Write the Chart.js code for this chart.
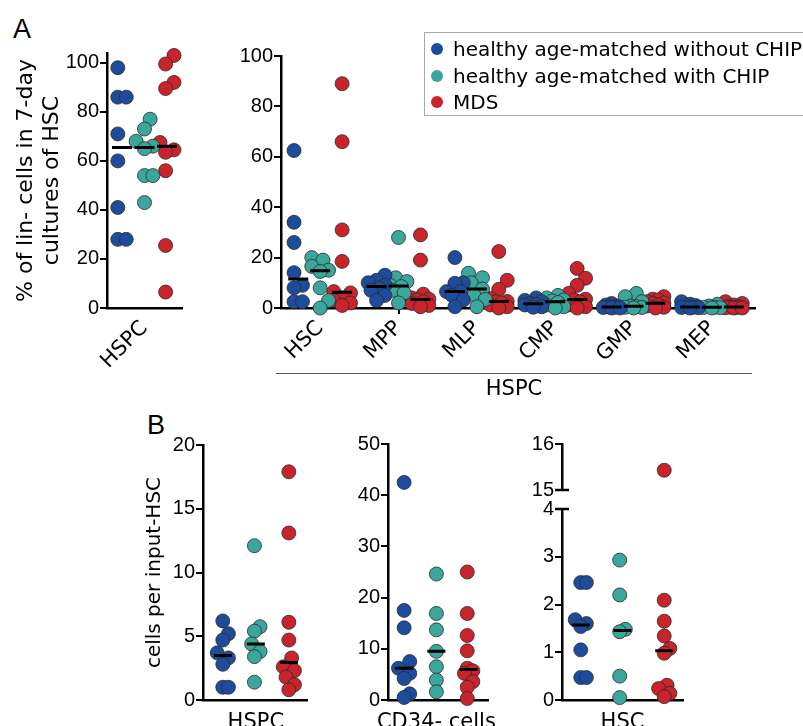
<!DOCTYPE html>
<html>
<head>
<meta charset="utf-8">
<script src="https://cdn.jsdelivr.net/npm/chart.js@4.4.1/dist/chart.umd.min.js"></script>
<style>
  body { margin: 0; width: 803px; height: 726px; overflow: hidden; position: relative; background: #fff; font-family: "DejaVu Sans", Verdana, sans-serif; color: #000; }
  canvas { position: absolute; }
  .letter { position: absolute; font-family: "Liberation Sans", Arial, sans-serif; font-size: 27px; line-height: 1; }
  .legend { position: absolute; left: 424px; top: 32px; width: 400px; height: 82px; border: 1px solid #a8a8a8; }
  .row { position: absolute; left: 0; height: 26px; line-height: 26px; font-size: 20px; white-space: nowrap; }
  .dot { position: absolute; left: 6px; top: 7px; width: 12px; height: 12px; border-radius: 50%; }
  .row span { position: absolute; left: 28px; top: 0; }
  .group { position: absolute; left: 276px; top: 373px; width: 476px; border-top: 1.5px solid #555; }
  .group div { text-align: center; font-size: 21px; line-height: 1; padding-top: 4px; }
</style>
</head>
<body>
<div class="letter" style="left:13px;top:16px">A</div>
<div class="letter" style="left:147px;top:412px">B</div>

<canvas id="aLeft" width="200" height="345" style="left:0;top:40px"></canvas>
<canvas id="aRight" width="600" height="345" style="left:200px;top:40px"></canvas>
<div class="group"><div>HSPC</div></div>

<div class="legend" id="legend"></div>

<canvas id="bHspc" width="200" height="301" style="left:140px;top:425px"></canvas>
<canvas id="bCd34" width="180" height="301" style="left:340px;top:425px"></canvas>
<canvas id="bHscLow" width="200" height="246" style="left:520px;top:480px"></canvas>
<canvas id="bHscHigh" width="200" height="80" style="left:520px;top:425px"></canvas>

<script>
// groups and colours
const groups = ['healthy age-matched without CHIP', 'healthy age-matched with CHIP', 'MDS'];
const colors = ['#1e4c9c', '#3aa69c', '#c9232b'];

// A, left: % of lin- cells, HSPC
const aHspcWithout = [98, 86, 86, 71, 60, 41, 28, 28];
const aHspcWith = [77, 73, 68, 66, 65, 54, 54, 43];
const aHspcMds = [103, 99.5, 92, 89.5, 67.5, 64.5, 63.5, 56, 25.5, 6.5];
const aLeftTicks = [0, 20, 40, 60, 80, 100];

// A, right: HSPC subsets
const subsets = ['HSC', 'MPP', 'MLP', 'CMP', 'GMP', 'MEP'];
const aSubWithout = [
  [62.5, 34, 26, 14, 9, 8, 2.5, 2.5],
  [13, 11, 10, 9, 8, 7, 5, 3],
  [20, 10, 9.8, 6.5, 6.5, 5, 3.2, 0.5],
  [4, 3, 2.5, 1.8, 1.5, 1.2, 0.5, 0.3],
  [1.8, 1.2, 0.8, 0.5, 0.3, 0.2, 0, 0],
  [2.5, 1.5, 1, 0.5, 0.3, 0.2, 0.1, 0]
];
const aSubWith = [
  [20, 19, 16.5, 15, 14.5, 8, 3, 0],
  [28, 12, 10.5, 9, 8.5, 7, 6, 2],
  [13.8, 12, 10, 7.5, 5, 3.4, 0.5],
  [5, 4, 3.2, 2.8, 2.2, 1.2, 0.5, 0],
  [5.8, 4.5, 2.5, 0.8, 0.5, 0.3, 0.2, 0],
  [1.5, 0.8, 0.3, 0.2, 0.1, 0]
];
const aSubMds = [
  [89, 66, 31, 18.5, 6.5, 6, 4, 3, 2, 1],
  [29, 19, 5.5, 4, 3.5, 3.2, 2.5, 1.8, 1, 0.5],
  [22.4, 11, 7.4, 3.8, 2.6, 2.5, 2, 1.2, 0.5, 0],
  [15.7, 11.8, 9, 5.8, 3.5, 3.2, 2.5, 1.2, 0.5, 0],
  [4.5, 3.5, 3.2, 2.5, 2, 1.8, 1.2, 0.8, 0.3, 0],
  [2.5, 1.8, 1.2, 0.8, 0.5, 0.3, 0.2, 0.1, 0, 0]
];
const aRightTicks = [0, 20, 40, 60, 80, 100];

// B: cells per input-HSC
const bHspcWithout = [6.2, 5.2, 4.7, 3.7, 3.3, 2.8, 1.0, 1.0];
const bHspcWith = [12.1, 5.75, 5.4, 4.4, 3.8, 3.4, 1.4];
const bHspcMds = [17.9, 13.1, 6.1, 4.7, 3.3, 2.6, 2.3, 1.8, 1.2, 0.8];
const bHspcTicks = [0, 5, 10, 15, 20];

const bCd34Without = [42.5, 17.5, 14.1, 7.5, 6.2, 5.2, 4.2, 1.2, 0.5];
const bCd34With = [24.6, 16.9, 13.7, 9.5, 6.5, 3.9, 1.6];
const bCd34Mds = [25, 16.9, 12.6, 9.6, 6.2, 5.7, 5.2, 3.6, 2.5, 0.3];
const bCd34Ticks = [0, 10, 20, 30, 40, 50];

const bHscWithout = [2.46, 2.46, 1.68, 1.6, 1.54, 1.05, 0.47, 0.47];
const bHscWith = [2.93, 2.2, 1.48, 1.43, 0.5, 0.05];
const bHscMds = [15.43, 2.09, 1.65, 1.34, 1.08, 0.98, 0.31, 0.24, 0.14, 0.07];
const bHscLowTicks = [0, 1, 2, 3, 4];
const bHscHighTicks = [15, 16];

const R = 7;
const tickFont = { family: 'Liberation Sans', size: 20 };
const labelFont = { family: 'DejaVu Sans', size: 21 };

// legend
const legend = document.getElementById('legend');
groups.forEach((g, i) => {
  const row = document.createElement('div');
  row.className = 'row';
  row.style.top = (3 + i * 26.5) + 'px';
  row.innerHTML = '<i class="dot" style="background:' + colors[i] + '"></i><span>' + g + '</span>';
  legend.appendChild(row);
});

function median(a) {
  const s = [...a].sort((p, q) => p - q);
  const n = s.length;
  return n % 2 ? s[(n - 1) / 2] : (s[n / 2 - 1] + s[n / 2]) / 2;
}

// simple beeswarm: pixel offsets so that dots do not pile on each other
function swarm(vals, ys, maxOff) {
  const order = vals.map((v, i) => i).sort((a, b) => vals[a] - vals[b]);
  const placed = [];
  const offs = new Array(vals.length).fill(0);
  const minD = R * 1.6;
  order.forEach(i => {
    const py = ys.getPixelForValue(vals[i]);
    let best = 0, bestD = -1, done = false;
    for (let k = 0; k <= 16 && !done; k++) {
      for (const s of (k ? [1, -1] : [1])) {
        const o = s * k * R * 0.4;
        if (Math.abs(o) > maxOff) continue;
        let d = Infinity;
        placed.forEach(p => { d = Math.min(d, Math.hypot(p.x - o, p.y - py)); });
        if (d >= minD) { best = o; done = true; break; }
        if (d > bestD) { bestD = d; best = o; }
      }
    }
    offs[i] = best;
    placed.push({ x: best, y: py });
  });
  // centre the swarm on the group position
  const mid = (Math.max(...offs) + Math.min(...offs)) / 2;
  return offs.map(o => o - mid);
}

// short marks that cross the axis where it is broken
const breakMarks = {
  id: 'breakMarks',
  afterDraw(chart, args, opts) {
    if (opts.at === undefined) return;
    const ctx = chart.ctx, x = chart.chartArea.left;
    const y = chart.scales.y.getPixelForValue(opts.at);
    ctx.save();
    ctx.strokeStyle = '#000';
    ctx.lineWidth = 2.5;
    ctx.beginPath();
    ctx.moveTo(x - 7, y);
    ctx.lineTo(x + 7, y);
    ctx.stroke();
    ctx.restore();
  }
};

function makeChart(id, c) {
  const sets = [0, 1, 2].map(g => ({
    label: groups[g], data: [], pointRadius: R, pointHoverRadius: R,
    pointBackgroundColor: colors[g], pointBorderColor: '#2b2b2b', pointBorderWidth: 0.8,
    order: 1, clip: false
  }));
  sets.push({ label: 'median', data: [], showLine: true, pointRadius: 0, borderColor: '#000',
    borderWidth: 3, order: 0, clip: false, spanGaps: false });
  return new Chart(document.getElementById(id), {
    type: 'scatter',
    data: { datasets: sets },
    plugins: [breakMarks],
    options: {
      responsive: false, animation: false, events: [],
      layout: { padding: { top: c.pT, right: c.pR, bottom: c.pB || 0, left: 0 } },
      plugins: { legend: { display: false }, tooltip: { enabled: false }, breakMarks: { at: c.brk } },
      scales: {
        x: {
          type: 'linear', display: c.xLabels !== null, min: c.xMin, max: c.xMax,
          afterBuildTicks: s => { s.ticks = (c.xLabels || []).map((t, i) => ({ value: i })); },
          afterFit: s => { s.height = c.xH; },
          border: { display: true, color: '#000', width: 2.5 },
          grid: { drawOnChartArea: false, color: '#000', lineWidth: 2, tickLength: c.xTick,
                  tickColor: c.xTickMarks ? '#000' : 'rgba(0,0,0,0)' },
          ticks: { autoSkip: false, minRotation: c.rot, maxRotation: c.rot, padding: c.xPad,
                   font: labelFont, color: '#000', callback: (v, i) => c.xLabels[i] }
        },
        y: {
          min: c.yMin, max: c.yMax,
          afterBuildTicks: s => { s.ticks = c.yTicks.map(v => ({ value: v })); },
          afterFit: s => { s.width = c.yW; },
          border: { display: true, color: '#000', width: 2.5 },
          grid: { drawOnChartArea: false, color: '#000', lineWidth: 2, tickLength: 7 },
          ticks: { padding: 1, font: tickFont, color: '#000' },
          title: c.title ? { display: true, text: c.title, color: '#000',
            font: { family: 'DejaVu Sans', size: c.titleSize, lineHeight: c.titleLH },
            padding: { top: c.titlePad, bottom: 0 } } : { display: false }
        }
      }
    }
  });
}

function fill(chart, series, gap, half, maxOff, keep) {
  const xs = chart.scales.x, ys = chart.scales.y;
  const unit = Math.abs(xs.getPixelForValue(1) - xs.getPixelForValue(0));
  const med = [];
  series.forEach((perCat, g) => {
    const pts = [];
    perCat.forEach((vals, ci) => {
      const cx = ci + (g - 1) * gap;
      const shown = vals.filter(keep);
      const offs = shown.length ? swarm(shown, ys, maxOff) : [];
      shown.forEach((v, i) => pts.push({ x: cx + offs[i] / unit, y: v }));
      if (half) {
        const m = median(vals);
        med.push({ x: cx - half / unit, y: m }, { x: cx + half / unit, y: m }, { x: cx, y: null });
      }
    });
    chart.data.datasets[g].data = pts;
  });
  chart.data.datasets[3].data = med;
  chart.update('none');
}
const all = () => true;

// Panel A left
const cAL = makeChart('aLeft', {
  pT: 12, pR: 18, xH: 77, yW: 107, xMin: -1, xMax: 1, yMin: 0, yMax: 104,
  yTicks: aLeftTicks, xLabels: ['HSPC'], rot: 45, xTick: 6, xPad: 2, xTickMarks: false,
  title: ['% of lin- cells in 7-day', 'cultures of HSC'], titleSize: 22, titleLH: 1.18, titlePad: 13
});
fill(cAL, [[aHspcWithout], [aHspcWith], [aHspcMds]], 0.6, 10, 9, all);

// Panel A right
const cAR = makeChart('aRight', {
  pT: 16, pR: 45, xH: 77, yW: 81, xMin: -0.5, xMax: 5.55, yMin: 0, yMax: 100,
  yTicks: aRightTicks, xLabels: subsets, rot: 45, xTick: 6, xPad: 2, xTickMarks: true
});
fill(cAR, [aSubWithout, aSubWith, aSubMds], 0.28, 10, 9, all);

// Panel B
const cB1 = makeChart('bHspc', {
  pT: 20, pR: 33, xH: 26, yW: 63, xMin: -1.6, xMax: 1.55, yMin: 0, yMax: 20,
  yTicks: bHspcTicks, xLabels: ['HSPC'], rot: 0, xTick: 4, xPad: 6, xTickMarks: false,
  title: 'cells per input-HSC', titleSize: 20, titleLH: 1.2, titlePad: 3
});
fill(cB1, [[bHspcWithout], [bHspcWith], [bHspcMds]], 1, 9, 8, all);

const cB2 = makeChart('bCd34', {
  pT: 19, pR: 32, xH: 26, yW: 48, xMin: -1.5, xMax: 1.6, yMin: 0, yMax: 50,
  yTicks: bCd34Ticks, xLabels: ['CD34- cells'], rot: 0, xTick: 4, xPad: 6, xTickMarks: false
});
fill(cB2, [[bCd34Without], [bCd34With], [bCd34Mds]], 1, 9, 8, all);

const cB3 = makeChart('bHscLow', {
  pT: 29, pR: 37, xH: 26, yW: 42, xMin: -1.45, xMax: 1.45, yMin: 0, yMax: 4,
  yTicks: bHscLowTicks, xLabels: ['HSC'], rot: 0, xTick: 4, xPad: 6, xTickMarks: false, brk: 4
});
fill(cB3, [[bHscWithout], [bHscWith], [bHscMds]], 1, 9, 8, v => v <= 4);

const cB3h = makeChart('bHscHigh', {
  pT: 19, pR: 37, pB: 15, xH: 0, yW: 42, xMin: -1.45, xMax: 1.45, yMin: 15, yMax: 16,
  yTicks: bHscHighTicks, xLabels: null, rot: 0, xTick: 0, xPad: 0, xTickMarks: false, brk: 15
});
fill(cB3h, [[bHscWithout], [bHscWith], [bHscMds]], 1, 0, 8, v => v > 4);
</script>
</body>
</html>
